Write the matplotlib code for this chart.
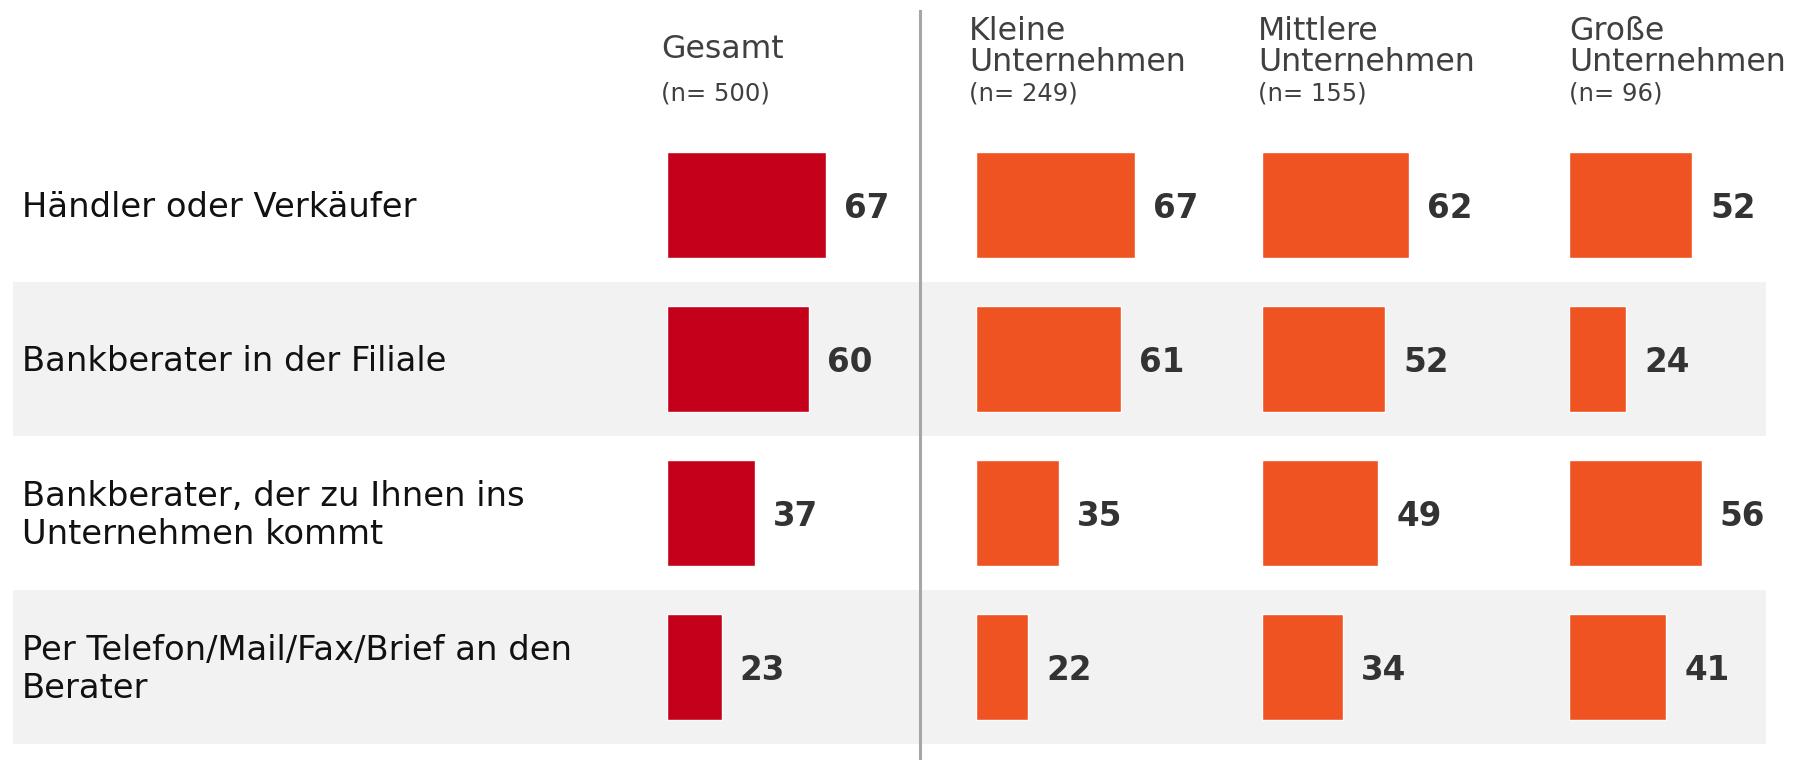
import matplotlib.pyplot as plt
from matplotlib.lines import Line2D
from matplotlib.transforms import blended_transform_factory

# data
categories = ["Händler oder Verkäufer",
              "Bankberater in der Filiale",
              "Bankberater, der zu Ihnen ins\nUnternehmen kommt",
              "Per Telefon/Mail/Fax/Brief an den\nBerater"]
groups = ["Gesamt", "Kleine\nUnternehmen", "Mittlere\nUnternehmen", "Große\nUnternehmen"]
n_sizes = [500, 249, 155, 96]
gesamt = [67, 60, 37, 23]
kleine = [67, 61, 35, 22]
mittlere = [62, 52, 49, 34]
grosse = [52, 24, 56, 41]
series = [gesamt, kleine, mittlere, grosse]

RED = "#C4001A"
ORANGE = "#F05322"
BAND = "#F2F2F2"
colors = [RED, ORANGE, ORANGE, ORANGE]

# layout in pixels
W, H = 1803, 760
def fx(px): return px / W
def fy(px): return 1 - px / H

TOP, BOT = 128, 744          # rows area
PXU = 2.37                   # pixels per percent
PANEL_X = [667, 976, 1262, 1569]
PANEL_W = 230
HEAD_X = [661, 969, 1258, 1569]

fig = plt.figure(figsize=(W / 100, H / 100), dpi=100)

# background bands
bg = fig.add_axes([fx(13), fy(BOT), fx(1766 - 13), (BOT - TOP) / H])
bg.set_xlim(0, 1)
bg.set_ylim(len(categories) - 0.5, -0.5)
bg.axis("off")
for i in range(len(categories)):
    if i % 2 == 1:
        bg.axhspan(i - 0.5, i + 0.5, color=BAND, lw=0)

# category labels
tr = blended_transform_factory(fig.transFigure, bg.transData)
for i, cat in enumerate(categories):
    bg.text(fx(22), i + 0.015, cat, transform=tr, va="center", ha="left",
            fontsize=24.3, color="#111111", linespacing=1.19)

# panels
for k, vals in enumerate(series):
    ax = fig.add_axes([fx(PANEL_X[k]), fy(BOT), fx(PANEL_W), (BOT - TOP) / H])
    ax.set_xlim(0, PANEL_W / PXU)
    ax.set_ylim(len(categories) - 0.5, -0.5)
    ax.axis("off")
    ax.barh(range(len(vals)), vals, height=0.69, color=colors[k],
            edgecolor="white", linewidth=1)
    for i, v in enumerate(vals):
        ax.text(v + 18 / PXU, i + 0.02, f"{v}", va="center", ha="left",
                fontsize=23.5, fontweight="bold", color="#333333")

    # header
    lines = groups[k].split("\n")
    if len(lines) == 1:
        fig.text(fx(HEAD_X[k]), fy(58), lines[0], va="baseline", ha="left",
                 fontsize=22.7, color="#404040")
    else:
        for j, ln in enumerate(lines):
            fig.text(fx(HEAD_X[k]), fy(40 + 31 * j), ln, va="baseline", ha="left",
                     fontsize=22.7, color="#404040")
    fig.text(fx(HEAD_X[k]), fy(100), f"(n= {n_sizes[k]})", va="baseline", ha="left",
             fontsize=17.5, color="#404040")

# divider
fig.add_artist(Line2D([fx(920), fx(920)], [fy(11), fy(760)],
                      transform=fig.transFigure, color="#A6A6A6", lw=2.2))

fig.savefig("out.png", dpi=100)
